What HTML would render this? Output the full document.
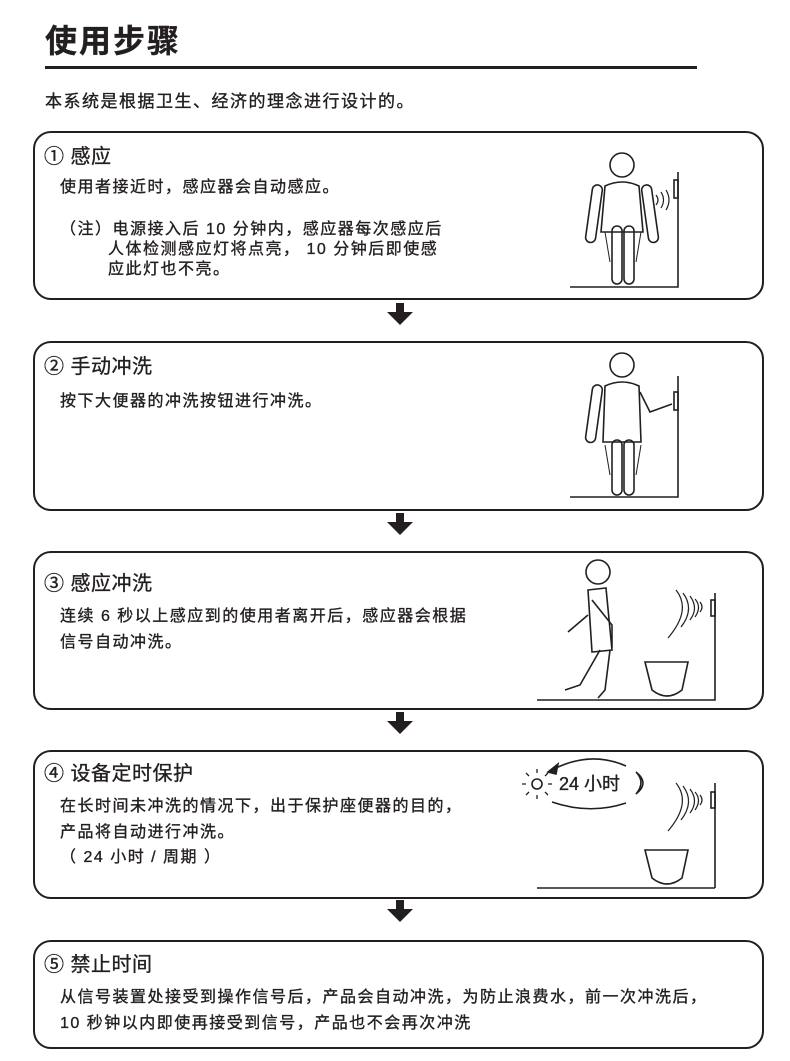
<!DOCTYPE html>
<html><head><meta charset="utf-8"><style>
body{margin:0;background:#fff;}
#p{position:relative;width:790px;height:1061px;overflow:hidden;font-family:"Liberation Sans","Noto Sans CJK SC",sans-serif;color:#231f20;}
.t{position:absolute;white-space:nowrap;line-height:1;-webkit-text-stroke:0.35px #231f20;}
.h{font-size:20px;letter-spacing:0.5px;}
.b{font-size:16px;letter-spacing:1.5px;}
.box{position:absolute;left:33px;width:727px;border:2px solid #231f20;border-radius:18px;}
</style></head><body><div id="p">
<div class="t" style="left:45px;top:25px;font-size:32px;font-weight:bold;letter-spacing:2px">使用步骤</div>
<div style="position:absolute;left:45px;top:66px;width:652px;height:3px;background:#231f20"></div>
<div class="t" style="left:45px;top:93px;font-size:17px;letter-spacing:1.5px">本系统是根据卫生、经济的理念进行设计的。</div>

<div class="box" style="top:131px;height:165px"></div>
<div class="box" style="top:341px;height:166px"></div>
<div class="box" style="top:551px;height:155px"></div>
<div class="box" style="top:750px;height:145px"></div>
<div class="box" style="top:940px;height:105px"></div>

<div class="t h" style="left:44px;top:147px">① 感应</div>
<div class="t b" style="left:60px;top:180px">使用者接近时，感应器会自动感应。</div>
<div class="t b" style="left:60px;top:222px">（注）电源接入后 10 分钟内，感应器每次感应后</div>
<div class="t b" style="left:108px;top:242px">人体检测感应灯将点亮， 10 分钟后即使感</div>
<div class="t b" style="left:108px;top:262px">应此灯也不亮。</div>

<div class="t h" style="left:44px;top:357px">② 手动冲洗</div>
<div class="t b" style="left:60px;top:394px">按下大便器的冲洗按钮进行冲洗。</div>

<div class="t h" style="left:44px;top:574px">③ 感应冲洗</div>
<div class="t b" style="left:60px;top:609px">连续 6 秒以上感应到的使用者离开后，感应器会根据</div>
<div class="t b" style="left:60px;top:635px">信号自动冲洗。</div>

<div class="t h" style="left:44px;top:764px">④ 设备定时保护</div>
<div class="t b" style="left:60px;top:799px">在长时间未冲洗的情况下，出于保护座便器的目的，</div>
<div class="t b" style="left:60px;top:825px">产品将自动进行冲洗。</div>
<div class="t b" style="left:60px;top:850px">（ 24 小时 / 周期 ）</div>
<div class="t" style="left:559px;top:775px;font-size:18px">24 小时</div>

<div class="t h" style="left:44px;top:955px">⑤ 禁止时间</div>
<div class="t b" style="left:60px;top:990px">从信号装置处接受到操作信号后，产品会自动冲洗，为防止浪费水，前一次冲洗后，</div>
<div class="t b" style="left:60px;top:1016px">10 秒钟以内即使再接受到信号，产品也不会再次冲洗</div>

<svg style="position:absolute;left:0;top:0" width="790" height="1061" fill="none" stroke="#231f20" stroke-width="1.6">
<g fill="#231f20" stroke="none">
<rect x="396" y="303" width="8" height="10"/><polygon points="387,312 413,312 400,325"/>
<rect x="396" y="513" width="8" height="10"/><polygon points="387,522 413,522 400,535"/>
<rect x="396" y="712" width="8" height="10"/><polygon points="387,721 413,721 400,734"/>
<rect x="396" y="900" width="8" height="10"/><polygon points="387,909 413,909 400,922"/>
</g>
<circle cx="622" cy="165" r="12"/>
<path d="M605 186 Q622 178 639 186 L643 232 L601 232 Z"/>
<rect x="593" y="185" width="10" height="58" rx="5" transform="rotate(8 598 185)"/>
<rect x="641" y="185" width="10" height="58" rx="5" transform="rotate(-8 646 185)"/>
<rect x="612" y="226" width="10" height="58" rx="5"/><rect x="624" y="226" width="10" height="58" rx="5"/>
<path d="M605 232 L610 262 M641 232 L636 262" stroke-width="1"/>
<path d="M570 287 H678 V172"/><rect x="674" y="180" width="4" height="18"/>
<path d="M656 195 q4 5 0 10 M661 192 q5 8 0 16 M666 190 q6 10 0 20" stroke-width="1.2"/>
<circle cx="622" cy="365" r="12"/>
<path d="M605 386 Q622 378 639 386 L641 442 L603 442 Z"/>
<rect x="593" y="385" width="10" height="58" rx="5" transform="rotate(8 598 385)"/>
<path d="M640 392 L650 412 L672 404"/>
<rect x="612" y="440" width="10" height="55" rx="5"/><rect x="624" y="440" width="10" height="55" rx="5"/>
<path d="M605 445 L610 475 M641 445 L636 475" stroke-width="1"/>
<path d="M570 497 H678 V376"/><rect x="674" y="392" width="4" height="18"/>
<circle cx="598" cy="572" r="12"/>
<path d="M588 590 L606 588 L612 650 L592 652 Z"/>
<path d="M592 600 L612 625 L612 648"/>
<path d="M588 615 L568 632"/>
<path d="M600 650 L580 685 L565 690 M610 650 L605 690 L598 698"/>
<path d="M537 700 H715 V593"/><rect x="711" y="600" width="4" height="16"/>
<path d="M700 602 q4 5 0 10 M695 599 q7 8 0 18 M690 596 q9 12 0 24 M683 593 q12 16 -2 34 M676 590 q16 20 -8 48" stroke-width="1.2"/>
<path d="M645 662 H688 L682 690 Q667 702 652 690 Z"/>
<circle cx="537" cy="784" r="5"/>
<path d="M537 773 v-4 M537 795 v4 M526 784 h-4 M548 784 h4 M529 776 l-3 -3 M545 792 l3 3 M545 776 l3 -3 M529 792 l-3 3" stroke-width="1.3"/>
<path d="M626 766 Q590 750 552 770"/><polygon points="548,772 558,764 556,774" fill="#231f20"/>
<path d="M552 802 Q590 815 626 803"/>
<path d="M636 772 q10 10 0 22 q14 -11 0 -22"/>
<path d="M715 888 V783"/><rect x="711" y="792" width="4" height="16"/>
<path d="M700 795 q4 5 0 10 M695 792 q7 8 0 18 M690 789 q9 12 0 24 M683 786 q12 16 -2 34 M676 783 q16 20 -8 48" stroke-width="1.2"/>
<path d="M645 850 H688 L682 878 Q667 890 652 878 Z"/>
<path d="M537 888 H715"/>
</svg>
</div></body></html>
